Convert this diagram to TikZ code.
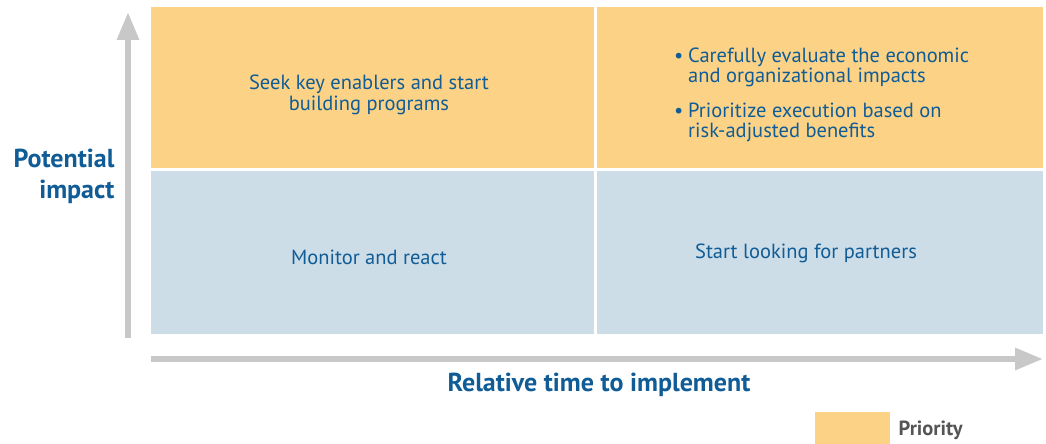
\documentclass[tikz,border=0pt]{standalone}
\usepackage{fontspec}
\setmainfont{PT Sans}
\usetikzlibrary{arrows.meta}
\usetikzlibrary{positioning}
\definecolor{prio}{RGB}{252,211,134}
\definecolor{watch}{RGB}{204,221,232}
\definecolor{ink}{RGB}{16,92,150}
\definecolor{axisgray}{RGB}{200,200,200}
\definecolor{keygray}{RGB}{85,85,85}
\begin{document}
\begin{tikzpicture}[x=1pt,y=-1pt,
  quad/.style={inner sep=0pt,anchor=north west,minimum width=443pt,minimum height=161pt},
  txt/.style={text=ink,align=center,font=\fontsize{20.5}{21}\selectfont},
  bullet/.style={text=ink,align=left,anchor=north west,inner sep=0pt,font=\fontsize{20.5}{20}\selectfont},
  axislabel/.style={text=ink,font=\fontsize{26}{31}\selectfont\bfseries},
  axisarrow/.style={draw=axisgray,line width=6pt,-{Triangle[length=28pt,width=21pt]}}]
\useasboundingbox (0,0) rectangle (1046,444);
% quadrants
\node[quad,fill=prio] (hilate) at (151,7) {};
\node[quad,fill=prio,minimum width=446pt] (hiearly) at (597,7) {};
\node[quad,fill=watch,minimum height=163pt] (lolate) at (151,171) {};
\node[quad,fill=watch,minimum width=446pt,minimum height=163pt] (loearly) at (597,171) {};
\node[txt] (seek) at (369,95) {Seek key enablers and start\\building programs};
\node[bullet] (eval) at (674,48) {\makebox[14pt][l]{\textbullet}Carefully evaluate the economic\\\hspace*{14pt}and organizational impacts};
\node[bullet] (prior) at (674,103) {\makebox[14pt][l]{\textbullet}Prioritize execution based on\\\hspace*{14pt}risk-adjusted benefits};
\node[txt] (monitor) at (369,257) {Monitor and react};
\node[txt] (partner) at (806,253) {Start looking for partners};
% axes
\coordinate (ybot) at (128,338);
\coordinate (ytop) at (128,12);
\draw[axisarrow] (ybot) -- (ytop);
\coordinate (xleft) at (151,359);
\coordinate (xright) at (1043,359);
\draw[axisarrow] (xleft) -- (xright);
\node[axislabel,align=right,anchor=east] (impact) at (118,176) {Potential\\impact};
\node[axislabel] (time) at (599,385) {Relative time to implement};
% legend
\node[inner sep=0pt,anchor=north west,minimum width=75pt,minimum height=32pt,fill=prio] (key) at (815,412) {};
\node[right=8pt of key,inner sep=0pt,text=keygray,font=\fontsize{20.5}{22}\selectfont\bfseries,yshift=-2pt] (keytxt) {Priority};
\end{tikzpicture}
\end{document}
